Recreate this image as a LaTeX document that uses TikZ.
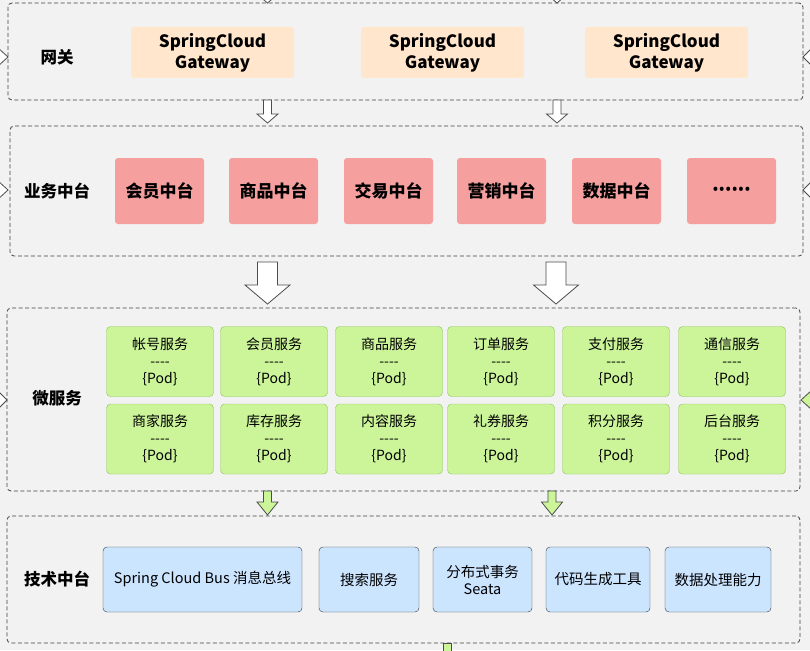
\documentclass[tikz,border=0pt]{standalone}
\usepackage{fontspec}
\setmainfont{Noto Sans CJK SC}
\newfontfamily\latinfont{Noto Sans}
\definecolor{bg}{HTML}{F2F2F2}
\definecolor{gwfill}{HTML}{FFE6CC}
\definecolor{bizfill}{HTML}{F5A09E}
\definecolor{msfill}{HTML}{CCF59A}
\definecolor{msline}{HTML}{8CC257}
\definecolor{techfill}{HTML}{CCE5FF}
\definecolor{techline}{HTML}{36393D}
\def\dashes{{-}{-}{-}{-}}

\tikzset{
  layer/.style={draw=black!75, dash pattern=on 4pt off 2.5pt, rounded corners=4pt, fill=bg, line width=0.8pt},
  layerlabel/.style={font=\bfseries\fontsize{16.5}{19}\selectfont},
  gwbox/.style={fill=gwfill, rounded corners=3pt, minimum width=163pt, minimum height=51pt, align=center, font=\bfseries\fontsize{17}{21}\selectfont},
  bizbox/.style={fill=bizfill, rounded corners=3pt, minimum width=89pt, minimum height=66pt, font=\bfseries\fontsize{17}{20}\selectfont},
  msbox/.style={fill=msfill, draw=msline, rounded corners=4pt, minimum width=107pt, minimum height=70pt, align=center, font=\fontsize{14}{17}\selectfont},
  techbox/.style={fill=techfill, draw=techline, rounded corners=4pt, minimum height=65pt, align=center, font=\fontsize{14.5}{17}\selectfont},
  openarrow/.style={fill=white, draw=black!70, line width=0.8pt},
  greenarrow/.style={fill=msfill, draw=black!70, line width=0.8pt}
}

\begin{document}
\begin{tikzpicture}[x=1pt, y=-1pt]
      \useasboundingbox (0,0) rectangle (810,650);
      \fill[bg] (0,0) rectangle (810,650);
      % layers
      \node[layer, minimum width=795pt, minimum height=97pt] (layerGw) at (405.5,51.5) {};
      \node[layer, minimum width=793pt, minimum height=130pt] (layerBiz) at (406.5,191) {};
      \node[layer, minimum width=793pt, minimum height=183pt] (layerMs) at (403.5,399.5) {};
      \node[layer, minimum width=793pt, minimum height=127pt] (layerTech) at (403.5,579.5) {};
      \node[layerlabel] (lblGw) at (57,57) {网关};
      \node[layerlabel] (lblBiz) at (57,191) {业务中台};
      \node[layerlabel] (lblMs) at (57,398) {微服务};
      \node[layerlabel] (lblTech) at (57,579) {技术中台};
      % gateway
      \foreach \x [count=\i] in {212.5,442.5,666.5} {
        \node[gwbox] (gw\i) at (\x,52.5) {SpringCloud\\Gateway};
      }
      % business
      \foreach \x/\t [count=\i] in {159.5/会员中台, 273.5/商品中台, 388.5/交易中台, 501.5/营销中台, 616.5/数据中台} {
        \node[bizbox] (biz\i) at (\x,191) {\t};
      }
      \node[bizbox] (biz6) at (731.5,191) {\latinfont ••••••};
      % micro services
      \foreach \x/\t [count=\i] in {160/帐号服务, 274/会员服务, 389/商品服务, 501/订单服务, 616/支付服务, 732/通信服务} {
        \node[msbox] (msA\i) at (\x,361.5) {\t\\\dashes\\\{Pod\}};
      }
      \foreach \x/\t [count=\i] in {160/商家服务, 274/库存服务, 389/内容服务, 501/礼券服务, 616/积分服务, 732/后台服务} {
        \node[msbox] (msB\i) at (\x,439) {\t\\\dashes\\\{Pod\}};
      }
      % tech
      \node[techbox, minimum width=199pt] (tech1) at (202.5,579.5) {Spring Cloud Bus 消息总线};
      \node[techbox, minimum width=100pt] (tech2) at (369,579.5) {搜索服务};
      \node[techbox, minimum width=99pt] (tech3) at (482.5,579.5) {分布式事务\\Seata};
      \node[techbox, minimum width=104pt] (tech4) at (598,579.5) {代码生成工具};
      \node[techbox, minimum width=106pt] (tech5) at (718,579.5) {数据处理能力};
      % arrows between layers
      \foreach \x in {267.5,557} {
        \draw[openarrow] (\x-4,-20) -- (\x-4,-6) -- (\x-10.5,-6) -- (\x,3) -- (\x+10.5,-6) -- (\x+4,-6) -- (\x+4,-20) -- cycle;
        \draw[openarrow] (\x-4,100) -- (\x-4,114) -- (\x-10.5,114) -- (\x,123) -- (\x+10.5,114) -- (\x+4,114) -- (\x+4,100) -- cycle;
      }
      \foreach \x in {267.5,556} {
        \draw[openarrow] (\x-10,262) -- (\x-10,285) -- (\x-22.5,285) -- (\x,304) -- (\x+22.5,285) -- (\x+10,285) -- (\x+10,262) -- cycle;
      }
      \foreach \x in {267.5,552} {
        \draw[greenarrow] (\x-4,491) -- (\x-4,502) -- (\x-10.5,502) -- (\x,515) -- (\x+10.5,502) -- (\x+4,502) -- (\x+4,491) -- cycle;
      }
      \draw[greenarrow] (443,643) rectangle (451,670);
      % side arrow heads
      \foreach \y in {57,190} {
        \draw[openarrow] (803,\y) -- (813,\y-10) -- (813,\y+10) -- cycle;
        \draw[openarrow] (8,\y) -- (-3,\y-10) -- (-3,\y+10) -- cycle;
      }
      \draw[greenarrow] (801,400) -- (812,390) -- (812,410) -- cycle;
      \draw[openarrow] (7,400) -- (-3,390) -- (-3,410) -- cycle;
    \end{tikzpicture}
\end{document}
